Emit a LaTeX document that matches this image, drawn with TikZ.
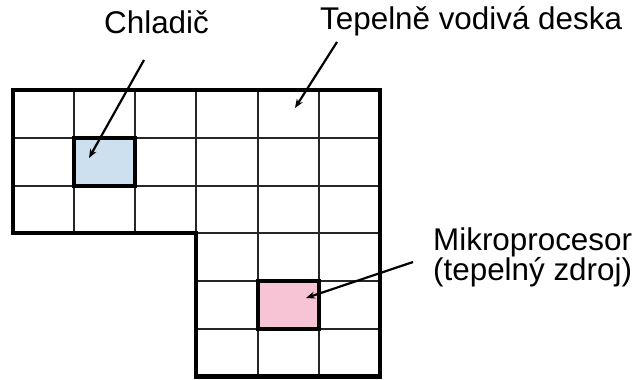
\documentclass[tikz,border=0pt]{standalone}
\usepackage{fontspec}
\setmainfont{Liberation Sans}
\usetikzlibrary{arrows.meta}
\definecolor{sinkblue}{RGB}{204,224,240}
\definecolor{cpupink}{RGB}{247,196,214}
\tikzset{
  gridline/.style={line width=1.4pt, draw=black!85},
  outline/.style={line width=5pt, line join=miter},
  partbox/.style={draw, line width=4.8pt, inner sep=0pt},
  label/.style={anchor=base west, inner sep=0pt, font=\fontsize{31.5}{30}\selectfont},
  pointer/.style={line width=2.2pt, -{Stealth[length=9pt,width=7pt]}},
}
\begin{document}
\begin{tikzpicture}[x=1bp,y=-1bp]
  \useasboundingbox (0,0) rectangle (640,379);
  \fill[white] (0,0) rectangle (640,379);

  % thin grid lines of the plate
  \foreach \x in {74,135}
    \draw[gridline] (\x,90) -- (\x,233);
  \foreach \x in {196,258,319}
    \draw[gridline] (\x,90) -- (\x,376);
  \foreach \y in {138,186}
    \draw[gridline] (13,\y) -- (380,\y);
  \foreach \y in {233,281,329}
    \draw[gridline] (196,\y) -- (380,\y);

  % heat sink and processor cells
  \node[partbox, fill=sinkblue, minimum width=61bp, minimum height=48bp] (sink) at (104.5,162) {};
  \node[partbox, fill=cpupink, minimum width=61bp, minimum height=48bp] (cpu) at (288.5,305) {};

  % L-shaped plate outline
  \draw[outline] (13,90) -- (380,90) -- (380,376) -- (196,376) -- (196,233) -- (13,233) -- cycle;

  % labels
  \node[label] (lsink) at (104,33) {Chladič};
  \node[label] (lplate) at (320,29) {Tepelně vodivá deska};
  \node[label] (lcpu1) at (433,250) {Mikroprocesor};
  \node[label] (lcpu2) at (433,280) {(tepelný zdroj)};

  % pointer lines
  \coordinate (sinkfrom) at (144,60);
  \coordinate (sinkto) at (89,158);
  \coordinate (platefrom) at (337,42);
  \coordinate (plateto) at (295,108);
  \coordinate (cpufrom) at (413,262);
  \coordinate (cputo) at (306,298);
  \draw[pointer] (sinkfrom) -- (sinkto);
  \draw[pointer] (platefrom) -- (plateto);
  \draw[pointer] (cpufrom) -- (cputo);
\end{tikzpicture}
\end{document}
